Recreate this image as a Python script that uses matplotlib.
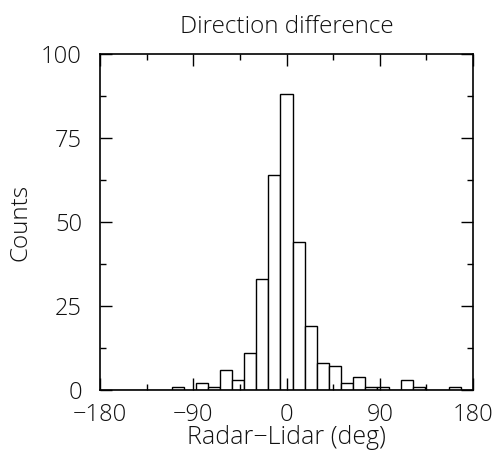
import numpy as np
import matplotlib
matplotlib.use("Agg")
import matplotlib.pyplot as plt
from matplotlib.ticker import MultipleLocator

# 31 bins spanning -180..180 (centred on 0)
bin_edges = np.linspace(-180, 180, 32)
counts = [0, 0, 0, 0, 0, 0, 1, 0, 2, 1, 6, 3, 11, 33, 64, 88,
          44, 19, 8, 7, 2, 4, 1, 1, 0, 3, 1, 0, 0, 1, 0]
x_ticks = [-180, -90, 0, 90, 180]
y_ticks = [0, 25, 50, 75, 100]

plt.rcParams['font.family'] = ['Open Sans', 'DejaVu Sans']
plt.rcParams['font.weight'] = 'light'
plt.rcParams['axes.titleweight'] = 'light'
plt.rcParams['axes.labelweight'] = 'light'
fig = plt.figure(figsize=(5.0, 4.57), dpi=100)
ax = fig.add_axes([0.2, 0.1466, 0.746, 0.7352])

ax.bar(bin_edges[:-1], counts, width=np.diff(bin_edges), align='edge',
       color='white', edgecolor='black', linewidth=1.0)

ax.set_xlim(-180, 180)
ax.set_ylim(0, 100)
ax.set_xticks(x_ticks)
ax.set_yticks(y_ticks)
ax.set_xticklabels(['\u2212180', '\u221290', '0', '90', '180'])
ax.xaxis.set_minor_locator(MultipleLocator(45))
ax.yaxis.set_minor_locator(MultipleLocator(12.5))
ax.tick_params(which='both', direction='in', top=True, right=True,
               color='black', width=1.0, labelsize=17, labelcolor='#111111')
ax.tick_params(which='major', length=8.5)
ax.tick_params(axis='x', which='major', pad=9)
ax.tick_params(axis='y', which='major', pad=13)
ax.tick_params(which='minor', length=4.5)
for s in ax.spines.values():
    s.set_linewidth(1.2)

ax.set_title('Direction difference', fontsize=17.5, pad=15, color='#111111')
ax.set_xlabel('Radar\u2212Lidar (deg)', fontsize=18, labelpad=-1, color='#111111')
ax.set_ylabel('Counts', fontsize=17.5, labelpad=6, color='#111111')

fig.savefig('out.png', dpi=100)
